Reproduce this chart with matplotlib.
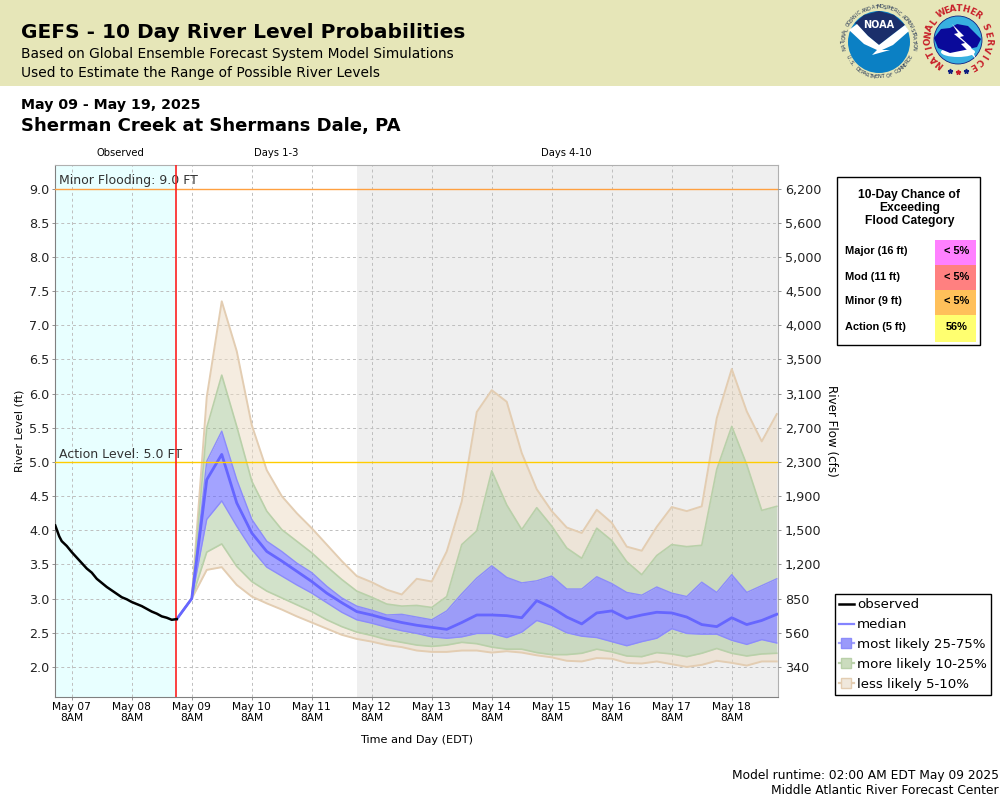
"""GEFS 10 day river level probabilities, Sherman Creek at Shermans Dale."""

import matplotlib

matplotlib.use("Agg")
import matplotlib.pyplot as plt
import numpy as np
from matplotlib.lines import Line2D
from matplotlib.patches import Circle, Ellipse, Polygon, Rectangle

W, H = 1000, 800

# hours since May 07 8AM
obs_hours = [-6.6, -5, -4, -2, 0, 2, 4, 6, 8, 10, 12, 14, 16, 18, 20, 22, 24, 26,
             28, 30, 32, 34, 36, 38, 40, 42]
obs_level = [4.07, 3.91, 3.84, 3.77, 3.68, 3.60, 3.52, 3.44, 3.38, 3.29, 3.23,
             3.17, 3.12, 3.07, 3.02, 2.99, 2.95, 2.92, 2.89, 2.85, 2.81, 2.78,
             2.74, 2.72, 2.69, 2.70]

fc_hours = list(range(42, 283, 6))
p95 = [2.70, 3.00, 5.95, 7.35, 6.62, 5.54, 4.88, 4.50, 4.25, 4.03, 3.79, 3.55,
       3.33, 3.24, 3.13, 3.06, 3.29, 3.25, 3.69, 4.42, 5.73, 6.05, 5.88, 5.13,
       4.60, 4.28, 4.04, 3.96, 4.30, 4.11, 3.76, 3.70, 4.05, 4.34, 4.28, 4.35,
       5.64, 6.36, 5.74, 5.30, 5.70]
p90 = [2.70, 3.00, 5.50, 6.27, 5.52, 4.72, 4.28, 4.01, 3.84, 3.67, 3.47, 3.28,
       3.11, 3.02, 2.92, 2.89, 2.90, 2.87, 3.03, 3.79, 3.99, 4.87, 4.37, 4.01,
       4.33, 4.06, 3.74, 3.59, 4.03, 3.85, 3.54, 3.35, 3.63, 3.79, 3.76, 3.78,
       4.89, 5.52, 4.96, 4.29, 4.35]
p75 = [2.70, 3.00, 5.01, 5.45, 4.74, 4.16, 3.84, 3.69, 3.52, 3.38, 3.18, 3.01,
       2.89, 2.83, 2.76, 2.77, 2.73, 2.69, 2.82, 3.07, 3.30, 3.48, 3.31, 3.23,
       3.26, 3.33, 3.14, 3.14, 3.32, 3.22, 3.09, 3.05, 3.17, 3.08, 3.03, 3.24,
       3.09, 3.35, 3.09, 3.19, 3.29]
median = [2.70, 3.00, 4.74, 5.11, 4.40, 3.96, 3.69, 3.55, 3.40, 3.25, 3.08, 2.94,
          2.81, 2.76, 2.70, 2.65, 2.61, 2.58, 2.55, 2.65, 2.76, 2.76, 2.75, 2.72,
          2.97, 2.87, 2.73, 2.63, 2.79, 2.82, 2.71, 2.76, 2.80, 2.79, 2.73, 2.62,
          2.59, 2.72, 2.62, 2.68, 2.77]
p25 = [2.70, 3.00, 4.16, 4.43, 4.06, 3.72, 3.46, 3.33, 3.20, 3.08, 2.94, 2.80,
       2.69, 2.64, 2.58, 2.53, 2.49, 2.44, 2.42, 2.44, 2.49, 2.49, 2.43, 2.51,
       2.68, 2.61, 2.50, 2.45, 2.43, 2.37, 2.31, 2.37, 2.42, 2.56, 2.49, 2.48,
       2.48, 2.39, 2.33, 2.40, 2.35]
p10 = [2.70, 3.00, 3.68, 3.80, 3.47, 3.25, 3.11, 3.01, 2.91, 2.81, 2.69, 2.59,
       2.51, 2.46, 2.40, 2.36, 2.32, 2.30, 2.32, 2.36, 2.34, 2.29, 2.26, 2.26,
       2.21, 2.18, 2.18, 2.20, 2.26, 2.22, 2.16, 2.15, 2.21, 2.19, 2.15, 2.20,
       2.27, 2.20, 2.16, 2.19, 2.20]
p05 = [2.70, 3.00, 3.42, 3.46, 3.20, 3.03, 2.93, 2.84, 2.74, 2.65, 2.56, 2.47,
       2.41, 2.37, 2.32, 2.29, 2.24, 2.22, 2.22, 2.24, 2.24, 2.21, 2.23, 2.21,
       2.17, 2.14, 2.09, 2.08, 2.13, 2.12, 2.06, 2.05, 2.08, 2.04, 2.00, 2.03,
       2.09, 2.06, 2.02, 2.08, 2.08]

day_labels = ["May 07", "May 08", "May 09", "May 10", "May 11", "May 12",
              "May 13", "May 14", "May 15", "May 16", "May 17", "May 18"]
level_ticks = [2.0, 2.5, 3.0, 3.5, 4.0, 4.5, 5.0, 5.5, 6.0, 6.5, 7.0, 7.5, 8.0,
               8.5, 9.0]
flow_labels = ["340", "560", "850", "1,200", "1,500", "1,900", "2,300", "2,700",
               "3,100", "3,500", "4,000", "4,500", "5,000", "5,600", "6,200"]

flood_names = ["Major (16 ft)", "Mod (11 ft)", "Minor (9 ft)", "Action (5 ft)"]
flood_chances = ["< 5%", "< 5%", "< 5%", "56%"]
flood_colors = ["#FF80FF", "#FF8080", "#FFC05A", "#FFFF70"]

BLUE = "#6666FF"
GREEN = "#9DBF8B"
TAN = "#ECDBC2"


def curved_text(ax, text, cx, cy, r, start, end, flip=False, **kw):
    # angles in degrees, clockwise from the top of the circle
    for ch, a in zip(text, np.linspace(start, end, len(text))):
        t = np.radians(a)
        rot = 180 - a if flip else -a
        ax.text(cx + r * np.sin(t), cy - r * np.cos(t), ch, rotation=rot,
                ha="center", va="center", rotation_mode="anchor", **kw)


def draw_logos(ax):
    # NOAA
    cx, cy = 879, 42
    ax.add_patch(Circle((cx, cy), 31, fc="#0B80C4", ec="none", zorder=3))
    navy = Polygon([(855, 23), (864, 15), (879, 11), (894, 15), (905, 25), (888, 38),
                    (879, 45), (868, 36)], fc="#1B2F6B", ec="none", zorder=4)
    ax.add_patch(navy)
    swoosh = Polygon([(849, 30), (857, 24), (868, 36), (879, 45), (905, 25), (909, 31),
                      (893, 45), (882, 50), (890, 50), (872, 55), (877, 50), (864, 44)],
                     fc="white", ec="none", zorder=5)
    ax.add_patch(swoosh)
    ax.text(cx, 25, "NOAA", color="white", fontsize=7, fontweight="bold",
            ha="center", va="center", zorder=6)
    curved_text(ax, "NATIONAL OCEANIC AND ATMOSPHERIC ADMINISTRATION", cx, cy, 35,
                -100, 100, fontsize=3.6, color="#223355", zorder=6)
    curved_text(ax, "U.S. DEPARTMENT OF COMMERCE", cx, cy, 35, 245, 115, flip=True,
                fontsize=3.6, color="#223355", zorder=6)

    # NWS
    cx, cy = 958, 40
    ax.add_patch(Circle((cx, cy), 24, fc="#38B0E0", ec="#102080", lw=0.6, zorder=3))
    ax.add_patch(Ellipse((cx, 52), 34, 10, fc="white", ec="none", zorder=3.5))
    cloud = Polygon([(934, 38), (941, 29), (950, 28), (957, 24), (968, 26), (975, 33),
                     (981, 39), (977, 47), (965, 50), (950, 53), (938, 48)],
                    fc="#0A0A9A", ec="none", zorder=4)
    ax.add_patch(cloud)
    bolt = Polygon([(952, 24), (964, 36), (960, 37), (971, 47), (976, 59), (961, 44),
                    (965, 43), (954, 34), (958, 33)], fc="white", ec="none", zorder=5)
    ax.add_patch(bolt)
    red = dict(fontsize=6.4, fontweight="bold", color="#C8202A", zorder=6)
    curved_text(ax, "NATIONAL", cx, cy, 30, -142, -54, **red)
    curved_text(ax, "WEATHER", cx, cy, 31, -32, 38, **red)
    curved_text(ax, "SERVICE", cx, cy, 30, 65, 150, **red)
    for a, c in [(166, "#102080"), (180, "#C8202A"), (194, "#102080")]:
        t = np.radians(a)
        ax.plot(cx + 32 * np.sin(t), cy - 32 * np.cos(t), marker="*", ms=3.5, color=c,
                zorder=6)


fig = plt.figure(figsize=(W / 100, H / 100), dpi=100, facecolor="white")

# overlay in pixel coordinates for the header and the table
bg = fig.add_axes([0, 0, 1, 1], zorder=0)
bg.set_xlim(0, W)
bg.set_ylim(H, 0)
bg.axis("off")
bg.add_patch(Rectangle((0, 0), W, 85.5, fc="#E6E6B8", ec="none"))
bg.text(21, 33, "GEFS - 10 Day River Level Probabilities", fontsize=14.5,
        fontweight="bold", va="center", color="black")
bg.text(21, 54, "Based on Global Ensemble Forecast System Model Simulations",
        fontsize=9.95, va="center")
bg.text(21, 73, "Used to Estimate the Range of Possible River Levels",
        fontsize=9.95, va="center")
bg.text(21, 105, "May 09 - May 19, 2025", fontsize=10.2, fontweight="semibold",
        va="center")
bg.text(21, 126, "Sherman Creek at Shermans Dale, PA", fontsize=13,
        fontweight="bold", va="center")
draw_logos(bg)

for label, px in [("Observed", 120), ("Days 1-3", 276.5), ("Days 4-10", 566.5)]:
    bg.text(px, 153.5, label, fontsize=7.2, ha="center", va="center")

bg.text(417, 740, "Time and Day (EDT)", fontsize=8.1, ha="center", va="center")
bg.text(999, 775, "Model runtime: 02:00 AM EDT May 09 2025", fontsize=8.8, ha="right",
        va="center")
bg.text(999, 791, "Middle Atlantic River Forecast Center", fontsize=8.8, ha="right",
        va="center")

# flood category table
bg.add_patch(Rectangle((836.5, 176.5), 143.5, 168.5, fc="white", ec="black", lw=1))
table_font = ["Liberation Sans", "DejaVu Sans"]
for i, line in enumerate(["10-Day Chance of", "Exceeding", "Flood Category"]):
    bg.text(909.5, 195 + i * 13, line, fontsize=8.7, fontweight="bold", ha="center",
            va="center", family=table_font)
for i, (name, chance, color) in enumerate(zip(flood_names, flood_chances, flood_colors)):
    top = 240 + i * 25
    bg.add_patch(Rectangle((935, top), 41, 25.5 + (1 if i == 3 else 0), fc=color, ec="none"))
    bg.text(845, top + 11.5, name, fontsize=7.9, fontweight="bold", va="center",
            family=table_font)
    bg.text(957, top + 11.5, chance, fontsize=7.9, fontweight="bold", ha="center",
            va="center", family=table_font)

# main plot
ax = fig.add_axes([55 / W, 1 - 697 / H, (778 - 55) / W, (697 - 165) / H], zorder=1)
ax.set_xlim(-6.7, 282.5)
ax.set_ylim(1.56, 9.345)

ax.axvspan(-6.7, 42, color="#E8FFFF", lw=0, zorder=0)
ax.axvspan(114, 282.5, color="#EFEFEF", lw=0, zorder=0)

ax.set_xticks(np.arange(len(day_labels)) * 24)
ax.set_xticklabels([f"{d}\n8AM" for d in day_labels], fontsize=7.7, linespacing=1.05)
ax.set_yticks(level_ticks)
ax.set_yticklabels([f"{v:.1f}" for v in level_ticks], fontsize=9.2, color="#222222")
ax.tick_params(axis="both", length=2, width=0.6, color="#808080", pad=1.8)
ax.set_ylabel("River Level (ft)", fontsize=8, labelpad=3.5)
ax.grid(True, color="#BEBEBE", linestyle=(0, (3, 3)), linewidth=0.7, zorder=1)
ax.set_axisbelow(True)

for side in ("left", "bottom"):
    ax.spines[side].set_color("#808080")
for side in ("top", "right"):
    ax.spines[side].set_color("#B0B0B0")

ax.fill_between(fc_hours, p05, p10, color=TAN, alpha=0.5, lw=0, zorder=2)
ax.fill_between(fc_hours, p90, p95, color=TAN, alpha=0.5, lw=0, zorder=2)
ax.fill_between(fc_hours, p10, p25, color=GREEN, alpha=0.45, lw=0, zorder=2)
ax.fill_between(fc_hours, p75, p90, color=GREEN, alpha=0.45, lw=0, zorder=2)
ax.fill_between(fc_hours, p25, p75, color=BLUE, alpha=0.6, lw=0, zorder=2)
for values in (p05, p95):
    ax.plot(fc_hours, values, color="#E3CDB2", lw=1.4, zorder=3)
for values in (p10, p90):
    ax.plot(fc_hours, values, color="#B9D0A9", lw=1.2, zorder=3)
for values in (p25, p75):
    ax.plot(fc_hours, values, color="#8C8CFA", lw=1.0, zorder=3)
ax.plot(fc_hours, median, color=BLUE, lw=2, zorder=4)
ax.plot(obs_hours, obs_level, color="black", lw=1.8, zorder=5)

ax.axhline(9.0, color="#FFA040", lw=1, zorder=4)
ax.axhline(5.0, color="#FFCC00", lw=1, zorder=4)
ax.axvline(41.8, color="#FF2020", lw=1.2, zorder=4)
ax.text(-5.2, 9.02, "Minor Flooding: 9.0 FT", fontsize=9, color="#333333", va="bottom")
ax.text(-5.2, 5.02, "Action Level: 5.0 FT", fontsize=9, color="#333333", va="bottom")

# right axis shows the rating curve flow for each stage tick
ax2 = ax.twinx()
ax2.set_ylim(ax.get_ylim())
ax2.set_yticks(level_ticks)
ax2.set_yticklabels(flow_labels, fontsize=9.2, color="#222222")
ax2.tick_params(axis="y", length=2, width=0.6, color="#808080", pad=3)
ax2.set_ylabel("River Flow (cfs)", fontsize=8.6, rotation=270, labelpad=12)
for spine in ax2.spines.values():
    spine.set_visible(False)

handles = [
    Line2D([], [], color="black", lw=1.8),
    Line2D([], [], color=BLUE, lw=1.6, alpha=0.8),
    Line2D([], [], color="#A0A0FA", lw=1.6, marker="s", ms=6.5, mfc="#9A9AFA", mec="#8C8CFA"),
    Line2D([], [], color="#B9D0A9", lw=1.6, marker="s", ms=6.5, mfc="#CBDCBE", mec="#B9D0A9"),
    Line2D([], [], color="#E3CDB2", lw=1.6, marker="s", ms=6.5, mfc="#F0E8DC", mec="#E3CDB2"),
]
labels = ["observed", "median", "most likely 25-75%", "more likely 10-25%",
          "less likely 5-10%"]
leg = fig.legend(handles, labels, loc="lower left", bbox_to_anchor=(835 / W, 1 - 695 / H),
                 fontsize=9.6, frameon=True, fancybox=False, edgecolor="black",
                 framealpha=1, borderpad=0.3, borderaxespad=0, labelspacing=0.52,
                 handlelength=1.1, handletextpad=0.25)
leg.get_frame().set_linewidth(1)

fig.savefig("out.png", dpi=100)
